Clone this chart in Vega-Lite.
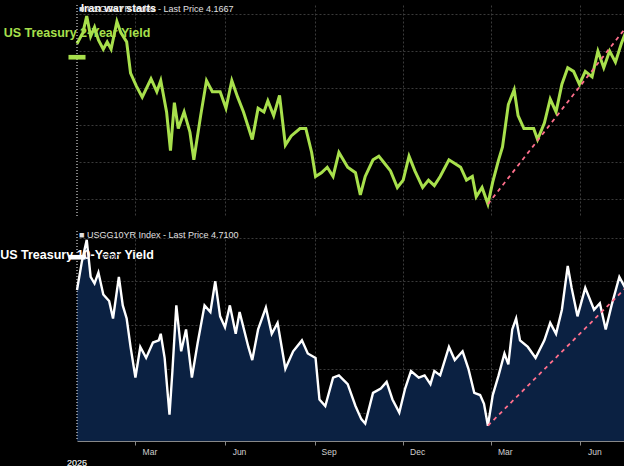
{
  "$schema": "https://vega.github.io/schema/vega-lite/v6.json",
  "background": "black",
  "padding": {"left": 0, "top": 2, "right": 0, "bottom": 0},
  "spacing": 12,
  "datasets": {
    "one": [{}],
    "y2": [
      {"date": "2024-12-31", "v": 4.24}, {"date": "2025-01-06", "v": 4.30}, {"date": "2025-01-10", "v": 4.39},
      {"date": "2025-01-14", "v": 4.28}, {"date": "2025-01-18", "v": 4.33}, {"date": "2025-01-22", "v": 4.26},
      {"date": "2025-01-27", "v": 4.21}, {"date": "2025-01-31", "v": 4.25}, {"date": "2025-02-04", "v": 4.21},
      {"date": "2025-02-10", "v": 4.36}, {"date": "2025-02-14", "v": 4.30}, {"date": "2025-02-20", "v": 4.25},
      {"date": "2025-02-24", "v": 4.08}, {"date": "2025-03-02", "v": 4.01}, {"date": "2025-03-08", "v": 3.95},
      {"date": "2025-03-17", "v": 4.05}, {"date": "2025-03-23", "v": 3.98}, {"date": "2025-03-27", "v": 4.04},
      {"date": "2025-04-02", "v": 3.87}, {"date": "2025-04-06", "v": 3.66}, {"date": "2025-04-10", "v": 3.92},
      {"date": "2025-04-14", "v": 3.78}, {"date": "2025-04-20", "v": 3.87}, {"date": "2025-04-26", "v": 3.76},
      {"date": "2025-04-30", "v": 3.61}, {"date": "2025-05-07", "v": 3.85}, {"date": "2025-05-13", "v": 4.04},
      {"date": "2025-05-19", "v": 3.98}, {"date": "2025-05-27", "v": 3.98}, {"date": "2025-06-02", "v": 3.89},
      {"date": "2025-06-08", "v": 4.04}, {"date": "2025-06-14", "v": 3.95}, {"date": "2025-06-20", "v": 3.87},
      {"date": "2025-06-29", "v": 3.72}, {"date": "2025-07-05", "v": 3.89}, {"date": "2025-07-11", "v": 3.87},
      {"date": "2025-07-15", "v": 3.93}, {"date": "2025-07-21", "v": 3.85}, {"date": "2025-07-27", "v": 3.96},
      {"date": "2025-08-02", "v": 3.69}, {"date": "2025-08-08", "v": 3.74}, {"date": "2025-08-17", "v": 3.78},
      {"date": "2025-08-23", "v": 3.78}, {"date": "2025-08-29", "v": 3.65}, {"date": "2025-09-02", "v": 3.52},
      {"date": "2025-09-08", "v": 3.54}, {"date": "2025-09-14", "v": 3.57}, {"date": "2025-09-20", "v": 3.52},
      {"date": "2025-09-26", "v": 3.65}, {"date": "2025-10-05", "v": 3.57}, {"date": "2025-10-13", "v": 3.54},
      {"date": "2025-10-18", "v": 3.42}, {"date": "2025-10-23", "v": 3.52}, {"date": "2025-10-31", "v": 3.61},
      {"date": "2025-11-06", "v": 3.63}, {"date": "2025-11-12", "v": 3.59}, {"date": "2025-11-18", "v": 3.55},
      {"date": "2025-11-25", "v": 3.46}, {"date": "2025-12-01", "v": 3.50}, {"date": "2025-12-07", "v": 3.63},
      {"date": "2025-12-13", "v": 3.55}, {"date": "2025-12-21", "v": 3.46}, {"date": "2025-12-27", "v": 3.50},
      {"date": "2026-01-02", "v": 3.47}, {"date": "2026-01-08", "v": 3.52}, {"date": "2026-01-17", "v": 3.61},
      {"date": "2026-01-23", "v": 3.59}, {"date": "2026-01-29", "v": 3.57}, {"date": "2026-02-04", "v": 3.50},
      {"date": "2026-02-10", "v": 3.52}, {"date": "2026-02-14", "v": 3.41}, {"date": "2026-02-20", "v": 3.46},
      {"date": "2026-02-26", "v": 3.37}, {"date": "2026-03-03", "v": 3.49}, {"date": "2026-03-09", "v": 3.61},
      {"date": "2026-03-13", "v": 3.68}, {"date": "2026-03-19", "v": 3.91}, {"date": "2026-03-25", "v": 3.99},
      {"date": "2026-03-29", "v": 3.85}, {"date": "2026-04-04", "v": 3.78}, {"date": "2026-04-14", "v": 3.78},
      {"date": "2026-04-18", "v": 3.72}, {"date": "2026-04-25", "v": 3.81}, {"date": "2026-05-01", "v": 3.94},
      {"date": "2026-05-07", "v": 3.87}, {"date": "2026-05-13", "v": 4.02}, {"date": "2026-05-19", "v": 4.11},
      {"date": "2026-05-25", "v": 4.09}, {"date": "2026-05-31", "v": 4.02}, {"date": "2026-06-06", "v": 4.09},
      {"date": "2026-06-13", "v": 4.06}, {"date": "2026-06-19", "v": 4.20}, {"date": "2026-06-25", "v": 4.11},
      {"date": "2026-07-01", "v": 4.20}, {"date": "2026-07-07", "v": 4.14}, {"date": "2026-07-13", "v": 4.24},
      {"date": "2026-07-21", "v": 4.35}, {"date": "2026-07-27", "v": 4.28}, {"date": "2026-08-03", "v": 4.20},
      {"date": "2026-08-09", "v": 4.24}, {"date": "2026-08-15", "v": 4.17}, {"date": "2026-08-18", "v": 4.1667}
    ],
    "y10": [
      {"date": "2024-12-31", "v": 4.56}, {"date": "2025-01-05", "v": 4.69}, {"date": "2025-01-10", "v": 4.79},
      {"date": "2025-01-14", "v": 4.62}, {"date": "2025-01-18", "v": 4.59}, {"date": "2025-01-22", "v": 4.64},
      {"date": "2025-01-27", "v": 4.54}, {"date": "2025-02-02", "v": 4.51}, {"date": "2025-02-06", "v": 4.43},
      {"date": "2025-02-12", "v": 4.62}, {"date": "2025-02-16", "v": 4.49}, {"date": "2025-02-20", "v": 4.43},
      {"date": "2025-02-24", "v": 4.30}, {"date": "2025-03-01", "v": 4.16}, {"date": "2025-03-06", "v": 4.30},
      {"date": "2025-03-12", "v": 4.25}, {"date": "2025-03-19", "v": 4.32}, {"date": "2025-03-25", "v": 4.33},
      {"date": "2025-03-27", "v": 4.36}, {"date": "2025-03-31", "v": 4.25}, {"date": "2025-04-05", "v": 3.99},
      {"date": "2025-04-08", "v": 4.19}, {"date": "2025-04-12", "v": 4.49}, {"date": "2025-04-17", "v": 4.28},
      {"date": "2025-04-22", "v": 4.38}, {"date": "2025-04-28", "v": 4.16}, {"date": "2025-05-04", "v": 4.32},
      {"date": "2025-05-11", "v": 4.49}, {"date": "2025-05-17", "v": 4.46}, {"date": "2025-05-22", "v": 4.60},
      {"date": "2025-05-27", "v": 4.44}, {"date": "2025-06-01", "v": 4.39}, {"date": "2025-06-06", "v": 4.49},
      {"date": "2025-06-12", "v": 4.36}, {"date": "2025-06-16", "v": 4.46}, {"date": "2025-06-25", "v": 4.30},
      {"date": "2025-06-29", "v": 4.24}, {"date": "2025-07-05", "v": 4.38}, {"date": "2025-07-13", "v": 4.48},
      {"date": "2025-07-19", "v": 4.36}, {"date": "2025-07-25", "v": 4.41}, {"date": "2025-08-02", "v": 4.20},
      {"date": "2025-08-10", "v": 4.28}, {"date": "2025-08-19", "v": 4.33}, {"date": "2025-08-25", "v": 4.27},
      {"date": "2025-09-02", "v": 4.25}, {"date": "2025-09-06", "v": 4.06}, {"date": "2025-09-12", "v": 4.03},
      {"date": "2025-09-20", "v": 4.16}, {"date": "2025-09-26", "v": 4.17}, {"date": "2025-10-05", "v": 4.13},
      {"date": "2025-10-13", "v": 4.03}, {"date": "2025-10-19", "v": 3.97}, {"date": "2025-10-23", "v": 3.95},
      {"date": "2025-10-31", "v": 4.09}, {"date": "2025-11-08", "v": 4.11}, {"date": "2025-11-14", "v": 4.14},
      {"date": "2025-11-20", "v": 4.06}, {"date": "2025-11-27", "v": 4.00}, {"date": "2025-12-03", "v": 4.11},
      {"date": "2025-12-09", "v": 4.19}, {"date": "2025-12-17", "v": 4.16}, {"date": "2025-12-23", "v": 4.17},
      {"date": "2025-12-29", "v": 4.13}, {"date": "2026-01-02", "v": 4.19}, {"date": "2026-01-08", "v": 4.17},
      {"date": "2026-01-17", "v": 4.30}, {"date": "2026-01-23", "v": 4.24}, {"date": "2026-01-31", "v": 4.28},
      {"date": "2026-02-06", "v": 4.20}, {"date": "2026-02-12", "v": 4.09}, {"date": "2026-02-18", "v": 4.08},
      {"date": "2026-02-22", "v": 4.04}, {"date": "2026-02-26", "v": 3.94}, {"date": "2026-03-03", "v": 4.08},
      {"date": "2026-03-09", "v": 4.17}, {"date": "2026-03-15", "v": 4.27}, {"date": "2026-03-19", "v": 4.22},
      {"date": "2026-03-23", "v": 4.38}, {"date": "2026-03-27", "v": 4.43}, {"date": "2026-03-31", "v": 4.33},
      {"date": "2026-04-08", "v": 4.30}, {"date": "2026-04-16", "v": 4.25}, {"date": "2026-04-25", "v": 4.33},
      {"date": "2026-05-01", "v": 4.41}, {"date": "2026-05-07", "v": 4.36}, {"date": "2026-05-13", "v": 4.47},
      {"date": "2026-05-19", "v": 4.67}, {"date": "2026-05-23", "v": 4.57}, {"date": "2026-05-29", "v": 4.44},
      {"date": "2026-06-06", "v": 4.57}, {"date": "2026-06-15", "v": 4.47}, {"date": "2026-06-21", "v": 4.50},
      {"date": "2026-06-27", "v": 4.38}, {"date": "2026-07-03", "v": 4.49}, {"date": "2026-07-11", "v": 4.62},
      {"date": "2026-07-17", "v": 4.57}, {"date": "2026-07-22", "v": 4.69}, {"date": "2026-07-27", "v": 4.63},
      {"date": "2026-08-01", "v": 4.74}, {"date": "2026-08-05", "v": 4.63}, {"date": "2026-08-11", "v": 4.70},
      {"date": "2026-08-15", "v": 4.65}, {"date": "2026-08-18", "v": 4.71}
    ],
    "trend2": [
      {"date": "2026-02-26", "v": 3.37}, {"date": "2026-07-21", "v": 4.35}
    ],
    "arrow2": [
      {"date": "2026-07-21", "v": 4.35}, {"date": "2026-08-18", "v": 4.17}
    ],
    "trend10": [
      {"date": "2026-02-26", "v": 3.94}, {"date": "2026-08-18", "v": 4.71}
    ]
  },
  "config": {
    "view": {"stroke": null},
    "axis": {
      "labelColor": "#d0d0d0", "labelFont": "Liberation Sans", "labelFontSize": 8.5, "labelPadding": 2, "tickSize": 3,
      "gridColor": "#3a3a3a", "gridDash": [2, 2], "domainColor": "#888", "tickColor": "#888",
      "title": null
    }
  },
  "vconcat": [
    {
      "width": 592, "height": 212,
      "layer": [
        {
          "data": {"name": "y2"},
          "mark": {"type": "line", "color": "#a8e04c", "strokeWidth": 3},
          "encoding": {
            "x": {"field": "date", "type": "temporal", "scale": {"domain": ["2024-12-31", "2026-08-31"]},
                  "axis": {"labels": false, "ticks": false, "domain": false, "values": ["2025-03-01", "2025-06-01", "2025-09-01", "2025-12-01", "2026-03-01", "2026-06-01"]}},
            "y": {"field": "v", "type": "quantitative", "scale": {"domain": [3.3, 4.45], "nice": false, "zero": false},
                  "axis": {"orient": "right", "values": [3.4, 3.6, 3.8, 4.0, 4.2, 4.4], "format": ".4f", "grid": true}}
          }
        },
        {
          "data": {"name": "trend2"},
          "mark": {"type": "line", "color": "#ff6f8c", "strokeWidth": 1.8, "strokeDash": [4, 4]},
          "encoding": {"x": {"field": "date", "type": "temporal"}, "y": {"field": "v", "type": "quantitative"}}
        },
        {
          "data": {"name": "arrow2"},
          "mark": {"type": "line", "color": "#ff6f8c", "strokeWidth": 2},
          "encoding": {"x": {"field": "date", "type": "temporal"}, "y": {"field": "v", "type": "quantitative"}}
        },
        {
          "data": {"name": "one"},
          "mark": {"type": "rule", "color": "white", "strokeDash": [1, 2], "strokeWidth": 1},
          "encoding": {"x": {"datum": "2026-02-27", "type": "temporal"}}
        },
        {
          "data": {"name": "one"},
          "mark": {"type": "text", "color": "white", "font": "Liberation Sans", "fontWeight": "bold", "fontSize": 11, "align": "left", "dx": 4, "baseline": "middle"},
          "encoding": {"x": {"datum": "2026-02-27", "type": "temporal"}, "y": {"datum": 4.43}, "text": {"value": "Iran war starts"}}
        },
        {
          "data": {"name": "one"},
          "mark": {"type": "text", "color": "#a8e04c", "font": "Liberation Sans", "fontWeight": "bold", "fontSize": 12.5, "align": "center", "baseline": "middle"},
          "encoding": {"x": {"datum": "2025-10-05", "type": "temporal"}, "y": {"datum": 4.3}, "text": {"value": "US Treasury 2-Year Yield"}}
        },
        {
          "data": {"name": "one"},
          "mark": {"type": "text", "color": "#e0e0e0", "font": "Liberation Sans", "fontSize": 9, "align": "left", "baseline": "middle", "dx": 2},
          "encoding": {"x": {"datum": "2024-12-31", "type": "temporal"}, "y": {"datum": 4.43}, "text": {"value": "■ USGG2YR Index - Last Price 4.1667"}}
        },
        {
          "data": {"name": "one"},
          "mark": {"type": "point", "shape": "M-2.2,-0.6L2.2,-0.6L2.2,0.6L-2.2,0.6Z", "filled": true, "opacity": 1, "color": "#a8e04c", "size": 60, "xOffset": 30, "clip": false},
          "encoding": {"x": {"datum": "2026-08-18", "type": "temporal"}, "y": {"datum": 4.1667}}
        },
        {
          "data": {"name": "one"},
          "mark": {"type": "text", "color": "black", "font": "Liberation Sans", "fontSize": 8.5, "align": "center", "baseline": "middle", "dx": 30},
          "encoding": {"x": {"datum": "2026-08-18", "type": "temporal"}, "y": {"datum": 4.1667}, "text": {"value": "4.1667"}}
        }
      ]
    },
    {
      "width": 592, "height": 210,
      "layer": [
        {
          "data": {"name": "y10"},
          "mark": {"type": "area", "color": "#0b2142", "clip": true},
          "encoding": {
            "x": {"field": "date", "type": "temporal", "scale": {"domain": ["2024-12-31", "2026-08-31"]},
                  "axis": {"format": "%b", "labelOffset": 14, "tickSize": 4, "values": ["2025-03-01", "2025-06-01", "2025-09-01", "2025-12-01", "2026-03-01", "2026-06-01"]}},
            "y": {"field": "v", "type": "quantitative", "scale": {"domain": [3.87, 4.83], "nice": false, "zero": false},
                  "axis": {"orient": "right", "values": [4.0, 4.2, 4.4, 4.6, 4.8], "format": ".4f", "grid": true}}
          }
        },
        {
          "data": {"name": "y10"},
          "mark": {"type": "line", "color": "white", "strokeWidth": 2.4},
          "encoding": {"x": {"field": "date", "type": "temporal"}, "y": {"field": "v", "type": "quantitative"}}
        },
        {
          "data": {"name": "trend10"},
          "mark": {"type": "line", "color": "#ff6f8c", "strokeWidth": 1.8, "strokeDash": [4, 4]},
          "encoding": {"x": {"field": "date", "type": "temporal"}, "y": {"field": "v", "type": "quantitative"}}
        },
        {
          "data": {"name": "one"},
          "mark": {"type": "rule", "color": "white", "strokeDash": [1, 2], "strokeWidth": 1},
          "encoding": {"x": {"datum": "2026-02-27", "type": "temporal"}}
        },
        {
          "data": {"name": "one"},
          "mark": {"type": "text", "color": "white", "font": "Liberation Sans", "fontWeight": "bold", "fontSize": 12.5, "align": "center", "baseline": "middle"},
          "encoding": {"x": {"datum": "2025-10-10", "type": "temporal"}, "y": {"datum": 4.72}, "text": {"value": "US Treasury 10-Year Yield"}}
        },
        {
          "data": {"name": "one"},
          "mark": {"type": "text", "color": "#e0e0e0", "font": "Liberation Sans", "fontSize": 9, "align": "left", "baseline": "middle", "dx": 2},
          "encoding": {"x": {"datum": "2024-12-31", "type": "temporal"}, "y": {"datum": 4.81}, "text": {"value": "■ USGG10YR Index - Last Price 4.7100"}}
        },
        {
          "data": {"name": "one"},
          "mark": {"type": "point", "shape": "M-2.2,-0.6L2.2,-0.6L2.2,0.6L-2.2,0.6Z", "filled": true, "opacity": 1, "color": "white", "size": 60, "xOffset": 30, "clip": false},
          "encoding": {"x": {"datum": "2026-08-18", "type": "temporal"}, "y": {"datum": 4.71}}
        },
        {
          "data": {"name": "one"},
          "mark": {"type": "text", "color": "black", "font": "Liberation Sans", "fontSize": 8.5, "align": "center", "baseline": "middle", "dx": 30},
          "encoding": {"x": {"datum": "2026-08-18", "type": "temporal"}, "y": {"datum": 4.71}, "text": {"value": "4.7100"}}
        },
        {
          "data": {"name": "one"},
          "mark": {"type": "text", "color": "#d0d0d0", "font": "Liberation Sans", "fontSize": 9, "align": "center", "baseline": "middle"},
          "encoding": {"x": {"datum": "2025-07-01", "type": "temporal"}, "y": {"datum": 3.77}, "text": {"value": "2025"}}
        },
        {
          "data": {"name": "one"},
          "mark": {"type": "text", "color": "#d0d0d0", "font": "Liberation Sans", "fontSize": 9, "align": "center", "baseline": "middle"},
          "encoding": {"x": {"datum": "2026-04-20", "type": "temporal"}, "y": {"datum": 3.77}, "text": {"value": "2026"}}
        },
        {
          "data": {"name": "one"},
          "mark": {"type": "text", "color": "#d0d0d0", "font": "Liberation Sans", "fontSize": 8, "align": "left", "baseline": "middle"},
          "encoding": {"x": {"datum": "2024-12-31", "type": "temporal"}, "y": {"datum": 3.715}, "text": {"value": "USGG2YR Index (US Generic Govt 2 Yr) 2Y and 10Y Yields Daily 31DEC2024-18AUG2026"}}
        },
        {
          "data": {"name": "one"},
          "mark": {"type": "text", "color": "#d0d0d0", "font": "Liberation Sans", "fontSize": 8, "align": "left", "baseline": "middle"},
          "encoding": {"x": {"datum": "2025-12-15", "type": "temporal"}, "y": {"datum": 3.715}, "text": {"value": "Copyright© 2026 Bloomberg Finance L.P."}}
        },
        {
          "data": {"name": "one"},
          "mark": {"type": "text", "color": "#d0d0d0", "font": "Liberation Sans", "fontSize": 8, "align": "right", "baseline": "middle", "dx": 28},
          "encoding": {"x": {"datum": "2026-08-31", "type": "temporal"}, "y": {"datum": 3.715}, "text": {"value": "18-Aug-2026 09:24:57"}}
        }
      ]
    }
  ]
}
